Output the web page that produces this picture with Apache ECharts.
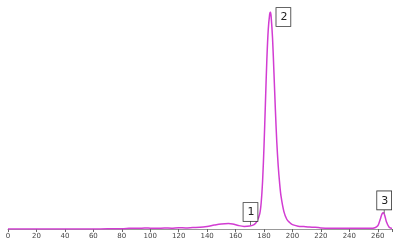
<!DOCTYPE html>
<html><head><meta charset="utf-8">
<script src="https://cdn.jsdelivr.net/npm/echarts@6/dist/echarts.min.js"></script>
<style>html,body{margin:0;padding:0;background:#fff}#c{width:395px;height:248px}</style>
</head><body><div id="c"></div>
<script>
const xValues = [0,10,20,30,40,50,60,70,80,85,88,92,96,100,105,110,115,120,125,130,135,140,145,150,155,158,162,166,170,173,175,177,178,179,180,181,182,183,184,184.5,185,186,187,188,189,190,191,192,194,196,198,200,204,208,212,216,220,225,230,235,240,245,250,255,258,260,261,262,263,264,265,266,268,270];
const yValues = [0,0,0,0,0,0,0,0.1,0.1,0.3,0.4,0.3,0.5,0.4,0.3,0.5,0.4,0.6,0.5,0.7,0.8,1.2,1.8,2.3,2.5,2.3,1.6,1.2,1.4,2,3.5,7,12,22,38,58,78,92,99,100,98,88,72,55,40,29,21,15,8,4.5,3,2,1.3,1.1,0.9,0.8,0.5,0.3,0.3,0.3,0.4,0.3,0.4,0.3,0.6,1.5,3,5,7,7.5,6,3.5,0.8,0.2];
const xTicks = {min:0, max:270, interval:20};
const peakLabels = [
  {name:'1', x:170.5, y:1.4},
  {name:'2', x:184.5, y:100},
  {name:'3', x:264.5, y:7.2}
];
const data = xValues.map((x,i)=>[x,yValues[i]]);
const chart = echarts.init(document.getElementById('c'));
const boxLabel = {
  show:true, color:'#222', fontSize:11, fontFamily:'DejaVu Sans',
  backgroundColor:'#fff', borderColor:'#333', borderWidth:0.8,
  padding:[4,3,3,4]
};
chart.setOption({
  animation:false,
  grid:{left:8,right:0,top:12,bottom:19},
  xAxis:{type:'value',min:xTicks.min,max:xTicks.max,interval:xTicks.interval,
    axisLine:{show:true,lineStyle:{color:'#999',width:1}},
    axisTick:{show:true,length:3,lineStyle:{color:'#666'}},
    axisLabel:{fontSize:7,color:'#444',margin:4,fontFamily:'DejaVu Sans',
      formatter:v=> v>260?'':String(v)},
    splitLine:{show:false}},
  yAxis:{type:'value',min:0,max:100,show:false,splitLine:{show:false}},
  series:[{
    type:'line',data:data,smooth:0.3,symbol:'none',
    lineStyle:{color:'#d23cd2',width:1.5},
    markPoint:{
      symbol:'rect',symbolSize:[0.8,4],symbolKeepAspect:false,
      itemStyle:{color:'#555'},
      data:[
        {coord:[peakLabels[0].x,peakLabels[0].y],symbolOffset:[0,-3],
         label:Object.assign({},boxLabel,{position:'top',distance:0,formatter:peakLabels[0].name})},
        {coord:[peakLabels[1].x,peakLabels[1].y],symbolSize:0,
         label:Object.assign({},boxLabel,{position:'right',distance:0,offset:[6,5],formatter:peakLabels[1].name})},
        {coord:[peakLabels[2].x,peakLabels[2].y],symbolOffset:[0,-2],
         label:Object.assign({},boxLabel,{position:'top',distance:0,formatter:peakLabels[2].name})}
      ]
    }
  }]
});
</script></body></html>
